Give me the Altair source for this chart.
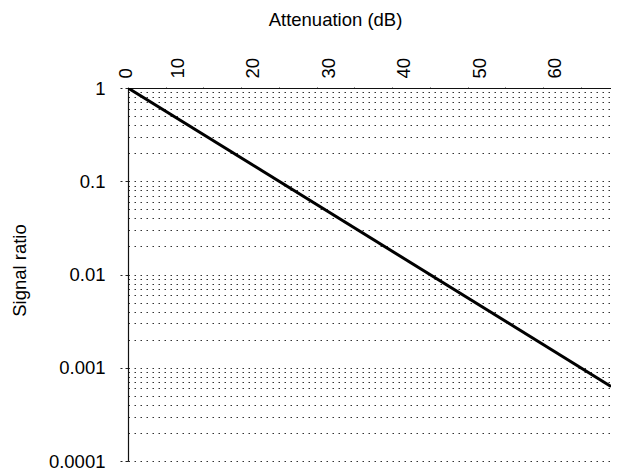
import altair as alt
import pandas as pd

# Attenuation (dB) vs signal ratio: ratio = 10^(-dB/20)
attenuation_db = [0, 64]
signal_ratio = [1.0, 10 ** (-64 / 20)]

y_major = [1, 0.1, 0.01, 0.001, 0.0001]
y_grid = [m * d for d in [0.0001, 0.001, 0.01, 0.1] for m in range(1, 10)] + [1]
x_ticks = list(range(0, 65, 5))

df = pd.DataFrame({"db": attenuation_db, "ratio": signal_ratio})

FONT = "Liberation Sans"
MAJOR_TEST = "indexof([1, 0.1, 0.01, 0.001, 0.0001], datum.value) >= 0"

x_enc = alt.X(
    "db:Q",
    scale=alt.Scale(domain=[0, 64], nice=False, zero=False),
    axis=alt.Axis(
        orient="top",
        title="Attenuation (dB)",
        values=x_ticks,
        labelExpr="datum.value % 10 == 0 ? datum.label : ''",
        labelAngle=270,
        labelOffset={"condition": {"test": "datum.value == 0", "value": -3}, "value": -26},
        labelPadding=7,
        tickSize=3,
        tickDash=[1, 2],
        tickColor="#333",
        grid=False,
        domainColor="#111",
        domainWidth=1.2,
        titleX=207,
        titleY=-63,
        titleAlign="center",
        titleBaseline="alphabetic",
    ),
)

y_enc = alt.Y(
    "ratio:Q",
    scale=alt.Scale(type="log", domain=[0.0001, 1], nice=False),
    axis=alt.Axis(
        title="Signal ratio",
        values=y_grid,
        labelExpr=MAJOR_TEST + " ? format(datum.value, '~r') : ''",
        tickOpacity={"condition": {"test": MAJOR_TEST, "value": 1}, "value": 0},
        tickSize=8,
        tickDash=[3, 3],
        tickColor="#222",
        labelPadding=15,
        grid=True,
        gridDash=[1.5, 4.5],
        gridColor="#333",
        gridWidth=1,
        domainColor="#111",
        domainWidth=1.2,
        titleX=-109,
        titleY=182,
        titleAlign="center",
        titleBaseline="middle",
        titleAngle=270,
    ),
)

chart = (
    alt.Chart(df)
    .mark_line(color="black", strokeWidth=3, clip=True)
    .encode(x=x_enc, y=y_enc)
    .properties(
        width=483,
        height=373,
        autosize=alt.AutoSizeParams(type="none"),
        padding={"left": 120, "top": 80, "right": 0, "bottom": 12},
    )
    .configure_view(stroke=None)
    .configure_axis(
        labelFont=FONT,
        labelFontSize=18.5,
        labelColor="black",
        titleFont=FONT,
        titleFontSize=18.5,
        titleFontWeight="normal",
        titleColor="black",
    )
)

chart.save("out.html", embed_options={"renderer": "svg", "actions": False})
